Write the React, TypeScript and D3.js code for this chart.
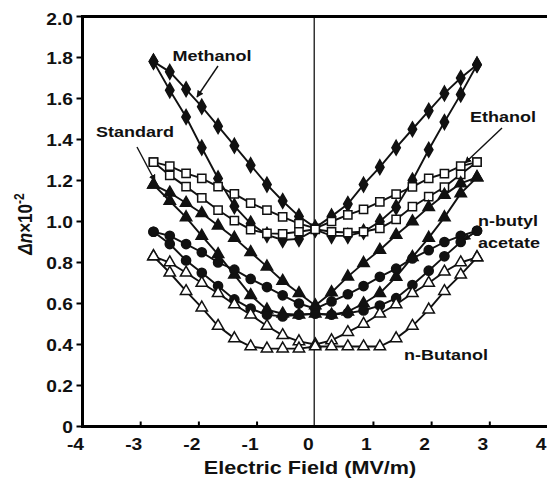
import React from 'react';
import * as d3 from 'd3';

// electric field sweep points (MV/m)
const fieldValues = [-2.78, -2.5, -2.22, -1.95, -1.67, -1.39, -1.11, -0.83, -0.56, -0.28, 0,
    0.28, 0.56, 0.83, 1.11, 1.39, 1.67, 1.95, 2.22, 2.5, 2.78];

// each liquid has two branches of the loop (upper and lower)
const methanolUpper = [1.78, 1.73, 1.645, 1.56, 1.465, 1.37, 1.275, 1.18, 1.1, 1.025, 0.97,
    1.025, 1.085, 1.18, 1.265, 1.36, 1.45, 1.54, 1.625, 1.7, 1.765];
const methanolLower = [1.78, 1.64, 1.51, 1.36, 1.21, 1.075, 0.99, 0.935, 0.91, 0.915, 0.96,
    0.93, 0.93, 0.95, 1.0, 1.07, 1.2, 1.35, 1.485, 1.62, 1.765];

const ethanolUpper = [1.29, 1.27, 1.235, 1.21, 1.17, 1.135, 1.09, 1.056, 1.023, 0.99, 0.967,
    1.0, 1.032, 1.059, 1.096, 1.134, 1.169, 1.21, 1.234, 1.27, 1.29];
const ethanolLower = [1.29, 1.225, 1.17, 1.115, 1.056, 1.004, 0.96, 0.942, 0.94, 0.95, 0.962,
    0.95, 0.946, 0.95, 0.967, 1.01, 1.072, 1.121, 1.168, 1.23, 1.29];

const standardUpper = [1.18, 1.14, 1.09, 1.04, 0.98, 0.92, 0.85, 0.78, 0.71, 0.65, 0.59,
    0.654, 0.731, 0.797, 0.861, 0.934, 1.0, 1.07, 1.13, 1.186, 1.215];
const standardLower = [1.18, 1.1, 1.02, 0.93, 0.84, 0.74, 0.64, 0.57, 0.55, 0.545, 0.55,
    0.545, 0.56, 0.6, 0.65, 0.73, 0.826, 0.92, 1.02, 1.137, 1.215];

const butylAcetateUpper = [0.95, 0.93, 0.89, 0.85, 0.8, 0.765, 0.72, 0.68, 0.64, 0.6, 0.575,
    0.61, 0.645, 0.685, 0.73, 0.77, 0.82, 0.86, 0.9, 0.93, 0.955];
const butylAcetateLower = [0.95, 0.89, 0.81, 0.75, 0.685, 0.62, 0.575, 0.545, 0.537, 0.545, 0.55,
    0.545, 0.553, 0.566, 0.59, 0.626, 0.69, 0.76, 0.83, 0.9, 0.955];

const butanolUpper = [0.83, 0.8, 0.75, 0.7, 0.65, 0.595, 0.545, 0.49, 0.445, 0.415, 0.4,
    0.42, 0.46, 0.5, 0.55, 0.595, 0.65, 0.7, 0.755, 0.8, 0.825];
const butanolLower = [0.83, 0.75, 0.66, 0.58, 0.49, 0.43, 0.39, 0.38, 0.38, 0.38, 0.39,
    0.39, 0.39, 0.39, 0.39, 0.43, 0.49, 0.57, 0.66, 0.74, 0.825];

const xTicks = [-4, -3, -2, -1, 0, 1, 2, 3, 4];
const yTicks = [0, 0.2, 0.4, 0.6, 0.8, 1.0, 1.2, 1.4, 1.6, 1.8, 2.0];
const yTickLabels = ['0', '0.2', '0.4', '0.6', '0.8', '1.0', '1.2', '1.4', '1.6', '1.8', '2.0'];

const W = 547;
const H = 482;
const FONT = '"Liberation Sans", Arial, sans-serif';

const x = d3.scaleLinear().domain([-4, 4]).range([82.5, 548]);
const y = d3.scaleLinear().domain([0, 2]).range([426.5, 16.5]);

const series = [
    { branches: [methanolUpper, methanolLower], symbol: d3.symbolDiamond, size: 62, filled: true },
    { branches: [ethanolUpper, ethanolLower], symbol: d3.symbolSquare, size: 68, filled: false },
    { branches: [standardUpper, standardLower], symbol: d3.symbolTriangle, size: 56, filled: true },
    { branches: [butylAcetateUpper, butylAcetateLower], symbol: d3.symbolCircle, size: 66, filled: true },
    { branches: [butanolUpper, butanolLower], symbol: d3.symbolTriangle, size: 56, filled: false },
];

// text in the picture is stretched sideways a bit
function Label({ x: tx, y: ty, size, anchor = 'middle', children }) {
    return (
        <text
            transform={`translate(${tx},${ty}) scale(1.2,1)`}
            textAnchor={anchor}
            fontFamily={FONT}
            fontWeight="bold"
            fontSize={size}
            fill="#111"
        >
            {children}
        </text>
    );
}

function Arrow({ x1, y1, x2, y2 }) {
    return (
        <line x1={x1} y1={y1} x2={x2} y2={y2} stroke="#111" strokeWidth={1.4} markerEnd="url(#arrowHead)" />
    );
}

export default function App() {
    const line = d3.line<number>()
        .x((d, i) => x(fieldValues[i]))
        .y(d => y(d));

    return (
        <svg width={W} height={H} style={{ position: 'absolute', left: 0, top: 0, background: '#fff' }}>
            <defs>
                <marker id="arrowHead" viewBox="0 0 10 10" refX="9" refY="5"
                    markerWidth="7" markerHeight="7" orient="auto" markerUnits="userSpaceOnUse">
                    <path d="M0,0 L10,5 L0,10 z" fill="#111" />
                </marker>
            </defs>

            {/* zero field line */}
            <line x1={x(0) - 1} x2={x(0) - 1} y1={y(2)} y2={y(0)} stroke="#333" strokeWidth={1.5} />

            {/* loops */}
            {series.map((s, si) => (
                <g key={si}>
                    {s.branches.map((b, bi) => (
                        <path key={bi} d={line(b)} fill="none" stroke="#111" strokeWidth={1.9} />
                    ))}
                    {s.branches.map((b, bi) => b.map((v, i) => (
                        <path
                            key={`${bi}-${i}`}
                            transform={`translate(${x(fieldValues[i])},${y(v)})`}
                            d={d3.symbol().type(s.symbol).size(s.size)()}
                            fill={s.filled ? '#111' : '#fff'}
                            stroke="#111"
                            strokeWidth={1.5}
                        />
                    )))}
                </g>
            ))}

            {/* frame */}
            <rect x={x(-4)} y={y(2)} width={x(4) - x(-4) + 2} height={y(0) - y(2)}
                fill="none" stroke="#000" strokeWidth={3} />

            {/* y ticks */}
            {yTicks.map((t, i) => (
                <g key={t}>
                    <line x1={x(-4) - 6} x2={x(-4)} y1={y(t)} y2={y(t)} stroke="#000" strokeWidth={2} />
                    <Label x={73} y={y(t) + 6 + (i === yTicks.length - 1 ? 2 : 0)} size={16} anchor="end">
                        {yTickLabels[i]}
                    </Label>
                </g>
            ))}

            {/* x ticks */}
            {xTicks.map(t => (
                <g key={t}>
                    {t !== 0 && t !== -4 && t !== 4 &&
                        <line x1={x(t)} x2={x(t)} y1={y(0)} y2={y(0) - 5} stroke="#000" strokeWidth={2} />}
                    <Label x={x(t) - 7} y={450} size={16}>{String(t)}</Label>
                </g>
            ))}

            {/* axis titles */}
            <Label x={310} y={474} size={18}>Electric Field (MV/m)</Label>
            <text
                transform="translate(32,224) scale(1.2,1) rotate(-90)"
                textAnchor="middle"
                fontFamily={FONT}
                fontWeight="bold"
                fontSize={17}
                fill="#111"
            >
                <tspan fontStyle="italic">Δn</tspan>×10<tspan dy={-7} fontSize={12}>-2</tspan>
            </text>

            {/* annotations */}
            <Label x={212} y={61} size={15}>Methanol</Label>
            <Arrow x1={218} y1={66} x2={197} y2={97} />

            <Label x={135} y={137} size={15}>Standard</Label>
            <Arrow x1={137} y1={147} x2={155} y2={181} />

            <Label x={503} y={122} size={15}>Ethanol</Label>
            <Arrow x1={502} y1={128} x2={465} y2={163} />

            <Label x={508} y={226} size={15}>n-butyl</Label>
            <Label x={509} y={248} size={15}>acetate</Label>
            <Arrow x1={478} y1={230} x2={464} y2={240} />

            <Label x={446} y={360} size={15}>n-Butanol</Label>
        </svg>
    );
}
